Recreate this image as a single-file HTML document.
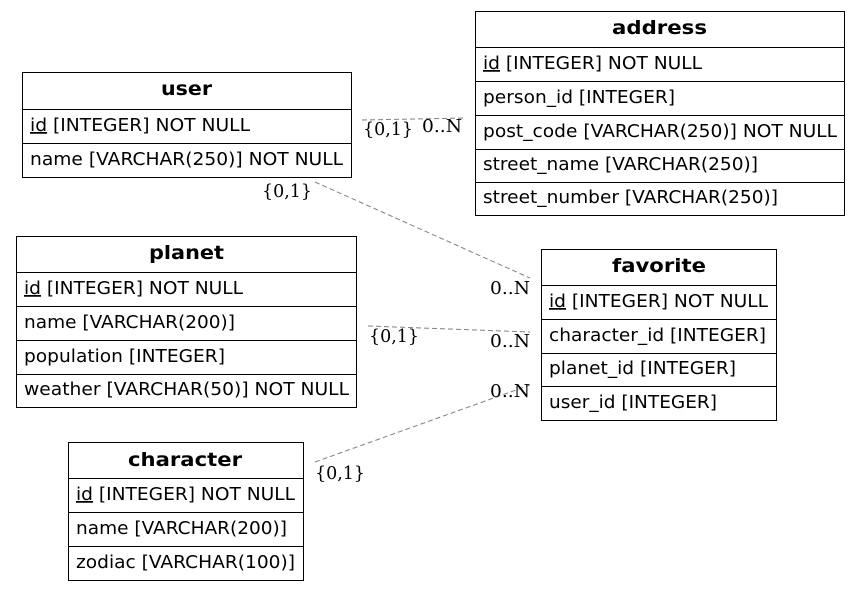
<!DOCTYPE html>
<html><head><meta charset="utf-8"><style>
html,body{margin:0;padding:0;background:#fff;}
svg{display:block;}
.t{font-family:"DejaVu Sans","Liberation Sans",sans-serif;font-size:17.5px;fill:#000;}
.h{font-family:"DejaVu Sans","Liberation Sans",sans-serif;font-size:19px;font-weight:bold;fill:#000;}
.l{font-family:"DejaVu Serif","Liberation Serif",serif;font-size:17.5px;fill:#000;}
.e{stroke:#808080;stroke-width:1;stroke-dasharray:5,3;fill:none;}
rect{fill:#fff;stroke:#000;stroke-width:1;}
line.r{stroke:#000;stroke-width:1;}
</style></head><body>
<svg width="860" height="591" viewBox="0 0 860 591" xmlns="http://www.w3.org/2000/svg">
<path class="e" d="M362,120 L465,118"/>
<path class="e" d="M315,182 L530,278"/>
<path class="e" d="M368,326 L530,332"/>
<path class="e" d="M315,462 L530,385"/>
<text class="l" x="363" y="135" textLength="50" lengthAdjust="spacingAndGlyphs">{0,1}</text>
<text class="l" x="422" y="132" textLength="40" lengthAdjust="spacingAndGlyphs">0..N</text>
<text class="l" x="262" y="197" textLength="50" lengthAdjust="spacingAndGlyphs">{0,1}</text>
<text class="l" x="490" y="294" textLength="40" lengthAdjust="spacingAndGlyphs">0..N</text>
<text class="l" x="369" y="342" textLength="50" lengthAdjust="spacingAndGlyphs">{0,1}</text>
<text class="l" x="490" y="347" textLength="40" lengthAdjust="spacingAndGlyphs">0..N</text>
<text class="l" x="490" y="397" textLength="40" lengthAdjust="spacingAndGlyphs">0..N</text>
<text class="l" x="315" y="479" textLength="50" lengthAdjust="spacingAndGlyphs">{0,1}</text>

<!-- user -->
<rect x="22.5" y="72.5" width="329" height="105"/>
<line class="r" x1="22" y1="109.5" x2="352" y2="109.5"/>
<line class="r" x1="22" y1="143.5" x2="352" y2="143.5"/>
<text class="h" x="161" y="95" textLength="51" lengthAdjust="spacingAndGlyphs">user</text>
<text class="t" x="30" y="131" textLength="220" lengthAdjust="spacingAndGlyphs"><tspan text-decoration="underline">id</tspan> [INTEGER] NOT NULL</text>
<text class="t" x="30" y="165" textLength="313" lengthAdjust="spacingAndGlyphs">name [VARCHAR(250)] NOT NULL</text>

<!-- address -->
<rect x="475.5" y="11.5" width="369" height="204"/>
<line class="r" x1="475" y1="47.5" x2="845" y2="47.5"/>
<line class="r" x1="475" y1="81.5" x2="845" y2="81.5"/>
<line class="r" x1="475" y1="115.5" x2="845" y2="115.5"/>
<line class="r" x1="475" y1="149.5" x2="845" y2="149.5"/>
<line class="r" x1="475" y1="182.5" x2="845" y2="182.5"/>
<text class="h" x="612" y="34" textLength="95" lengthAdjust="spacingAndGlyphs">address</text>
<text class="t" x="483" y="69" textLength="219" lengthAdjust="spacingAndGlyphs"><tspan text-decoration="underline">id</tspan> [INTEGER] NOT NULL</text>
<text class="t" x="483" y="103" textLength="192" lengthAdjust="spacingAndGlyphs">person_id [INTEGER]</text>
<text class="t" x="483" y="137" textLength="354" lengthAdjust="spacingAndGlyphs">post_code [VARCHAR(250)] NOT NULL</text>
<text class="t" x="483" y="170" textLength="275" lengthAdjust="spacingAndGlyphs">street_name [VARCHAR(250)]</text>
<text class="t" x="483" y="203" textLength="295" lengthAdjust="spacingAndGlyphs">street_number [VARCHAR(250)]</text>

<!-- planet -->
<rect x="16.5" y="236.5" width="340" height="171"/>
<line class="r" x1="16" y1="272.5" x2="357" y2="272.5"/>
<line class="r" x1="16" y1="306.5" x2="357" y2="306.5"/>
<line class="r" x1="16" y1="340.5" x2="357" y2="340.5"/>
<line class="r" x1="16" y1="374.5" x2="357" y2="374.5"/>
<text class="h" x="149" y="259" textLength="75" lengthAdjust="spacingAndGlyphs">planet</text>
<text class="t" x="24" y="294" textLength="219" lengthAdjust="spacingAndGlyphs"><tspan text-decoration="underline">id</tspan> [INTEGER] NOT NULL</text>
<text class="t" x="24" y="328" textLength="211" lengthAdjust="spacingAndGlyphs">name [VARCHAR(200)]</text>
<text class="t" x="24" y="362" textLength="201" lengthAdjust="spacingAndGlyphs">population [INTEGER]</text>
<text class="t" x="24" y="395" textLength="325" lengthAdjust="spacingAndGlyphs">weather [VARCHAR(50)] NOT NULL</text>

<!-- favorite -->
<rect x="541.5" y="249.5" width="235" height="171"/>
<line class="r" x1="541" y1="285.5" x2="777" y2="285.5"/>
<line class="r" x1="541" y1="319.5" x2="777" y2="319.5"/>
<line class="r" x1="541" y1="353.5" x2="777" y2="353.5"/>
<line class="r" x1="541" y1="386.5" x2="777" y2="386.5"/>
<text class="h" x="612" y="272" textLength="94" lengthAdjust="spacingAndGlyphs">favorite</text>
<text class="t" x="549" y="307" textLength="219" lengthAdjust="spacingAndGlyphs"><tspan text-decoration="underline">id</tspan> [INTEGER] NOT NULL</text>
<text class="t" x="549" y="341" textLength="217" lengthAdjust="spacingAndGlyphs">character_id [INTEGER]</text>
<text class="t" x="549" y="374" textLength="187" lengthAdjust="spacingAndGlyphs">planet_id [INTEGER]</text>
<text class="t" x="549" y="408" textLength="168" lengthAdjust="spacingAndGlyphs">user_id [INTEGER]</text>

<!-- character -->
<rect x="68.5" y="442.5" width="235" height="138"/>
<line class="r" x1="68" y1="478.5" x2="304" y2="478.5"/>
<line class="r" x1="68" y1="512.5" x2="304" y2="512.5"/>
<line class="r" x1="68" y1="546.5" x2="304" y2="546.5"/>
<text class="h" x="128" y="466" textLength="114" lengthAdjust="spacingAndGlyphs">character</text>
<text class="t" x="76" y="500" textLength="219" lengthAdjust="spacingAndGlyphs"><tspan text-decoration="underline">id</tspan> [INTEGER] NOT NULL</text>
<text class="t" x="76" y="534" textLength="211" lengthAdjust="spacingAndGlyphs">name [VARCHAR(200)]</text>
<text class="t" x="76" y="568" textLength="219" lengthAdjust="spacingAndGlyphs">zodiac [VARCHAR(100)]</text>
</svg>
</body></html>
